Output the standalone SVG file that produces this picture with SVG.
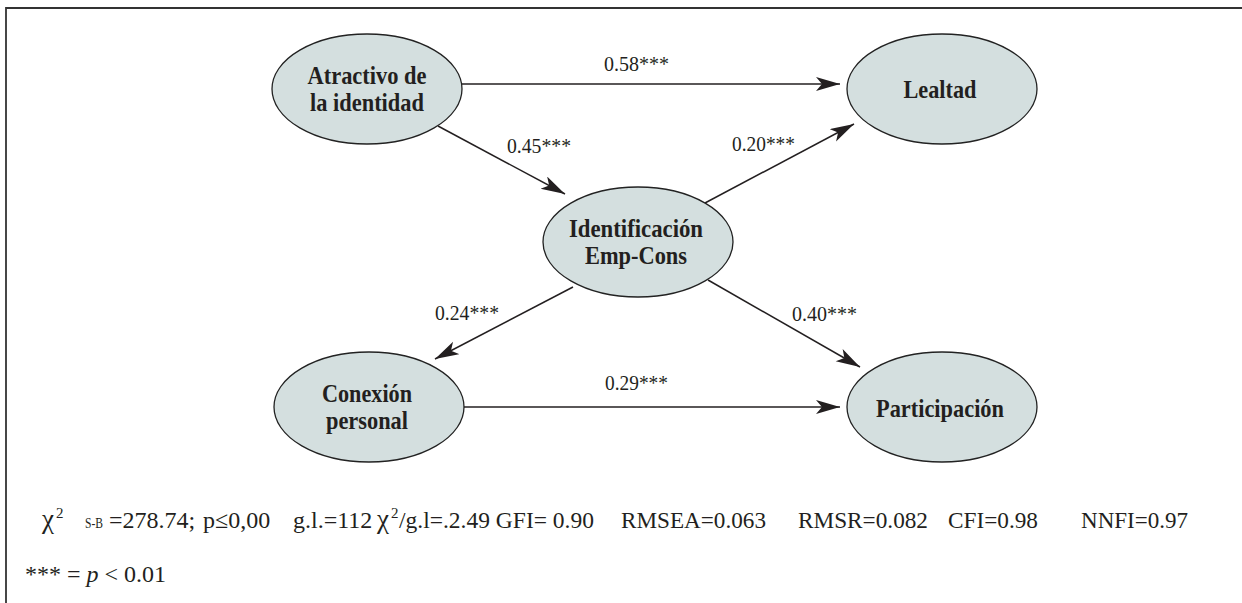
<svg xmlns="http://www.w3.org/2000/svg" width="1242" height="603" viewBox="0 0 1242 603">
<style>
.node ellipse{fill:#d4dfdf;stroke:#222;stroke-width:1.3}
.nt{font-family:"Liberation Serif","Times New Roman",serif;font-weight:bold;font-size:26px;fill:#231f20;text-anchor:middle}
.lbl{font-family:"Liberation Serif","Times New Roman",serif;font-size:22px;fill:#231f20}
.fit{font-family:"Liberation Serif","Times New Roman",serif;font-size:24px;fill:#231f20}
.edge{stroke:#231f20;stroke-width:1.5;fill:none;marker-end:url(#ah)}
</style>
<defs>
<marker id="ah" markerUnits="userSpaceOnUse" markerWidth="26" markerHeight="16" refX="24" refY="7" orient="auto" viewBox="0 0 26 16">
<path d="M0,0 L24,7 L0,14 L6,7 z" fill="#231f20"/>
</marker>
</defs>
<rect width="1242" height="603" fill="#fff"/>
<path d="M6,603 V8 H1242" fill="none" stroke="#333" stroke-width="1.8"/>
<g id="connectors">
<line class="edge" x1="462" y1="84" x2="840" y2="84"/>
<line class="edge" x1="438" y1="126" x2="565" y2="194"/>
<line class="edge" x1="705" y1="203" x2="854" y2="124"/>
<line class="edge" x1="573" y1="287" x2="435" y2="359"/>
<line class="edge" x1="708" y1="280" x2="860" y2="367"/>
<line class="edge" x1="463" y1="407" x2="840" y2="407"/>
<text class="lbl" x="604" y="71" textLength="65" lengthAdjust="spacingAndGlyphs">0.58***</text>
<text class="lbl" x="507" y="153" textLength="64" lengthAdjust="spacingAndGlyphs">0.45***</text>
<text class="lbl" x="732" y="151" textLength="63" lengthAdjust="spacingAndGlyphs">0.20***</text>
<text class="lbl" x="435" y="320" textLength="64" lengthAdjust="spacingAndGlyphs">0.24***</text>
<text class="lbl" x="792" y="321" textLength="65" lengthAdjust="spacingAndGlyphs">0.40***</text>
<text class="lbl" x="605" y="390" textLength="63" lengthAdjust="spacingAndGlyphs">0.29***</text>
</g>
<g id="atractivo" class="node">
<ellipse cx="367" cy="89" rx="95" ry="55"/>
<text class="nt" x="367" y="84" textLength="119" lengthAdjust="spacingAndGlyphs">Atractivo de</text>
<text class="nt" x="367" y="111" textLength="114" lengthAdjust="spacingAndGlyphs">la identidad</text>
</g>
<g id="lealtad" class="node">
<ellipse cx="942" cy="89" rx="95" ry="55"/>
<text class="nt" x="940" y="98" textLength="73" lengthAdjust="spacingAndGlyphs">Lealtad</text>
</g>
<g id="identificacion" class="node">
<ellipse cx="638" cy="242" rx="95" ry="55"/>
<text class="nt" x="636" y="237" textLength="134" lengthAdjust="spacingAndGlyphs">Identificación</text>
<text class="nt" x="636" y="264" textLength="102" lengthAdjust="spacingAndGlyphs">Emp-Cons</text>
</g>
<g id="conexion" class="node">
<ellipse cx="369" cy="407" rx="95" ry="55"/>
<text class="nt" x="367" y="402" textLength="90" lengthAdjust="spacingAndGlyphs">Conexión</text>
<text class="nt" x="367" y="429" textLength="82" lengthAdjust="spacingAndGlyphs">personal</text>
</g>
<g id="participacion" class="node">
<ellipse cx="942" cy="407" rx="95" ry="55"/>
<text class="nt" x="940" y="417" textLength="128" lengthAdjust="spacingAndGlyphs">Participación</text>
</g>
<g id="fit">
<text class="fit" y="528"><tspan x="42" font-size="27">χ</tspan><tspan x="56" y="518" font-size="15">2</tspan><tspan x="85" y="528" font-size="15" textLength="18" lengthAdjust="spacingAndGlyphs">S-B</tspan><tspan x="109">=278.74;</tspan><tspan x="203">p≤0,00</tspan><tspan x="293">g.l.=112</tspan><tspan x="377" font-size="27">χ</tspan><tspan x="391" y="518" font-size="15">2</tspan><tspan x="399" y="528" textLength="195" lengthAdjust="spacingAndGlyphs">/g.l=.2.49 GFI= 0.90</tspan><tspan x="621" textLength="145" lengthAdjust="spacingAndGlyphs">RMSEA=0.063</tspan><tspan x="798" textLength="130" lengthAdjust="spacingAndGlyphs">RMSR=0.082</tspan><tspan x="948" textLength="90" lengthAdjust="spacingAndGlyphs">CFI=0.98</tspan><tspan x="1081" textLength="107" lengthAdjust="spacingAndGlyphs">NNFI=0.97</tspan></text>
<text class="fit" x="25" y="582" font-size="23">*** = <tspan font-style="italic">p</tspan> &lt; 0.01</text>
</g>
</svg>
